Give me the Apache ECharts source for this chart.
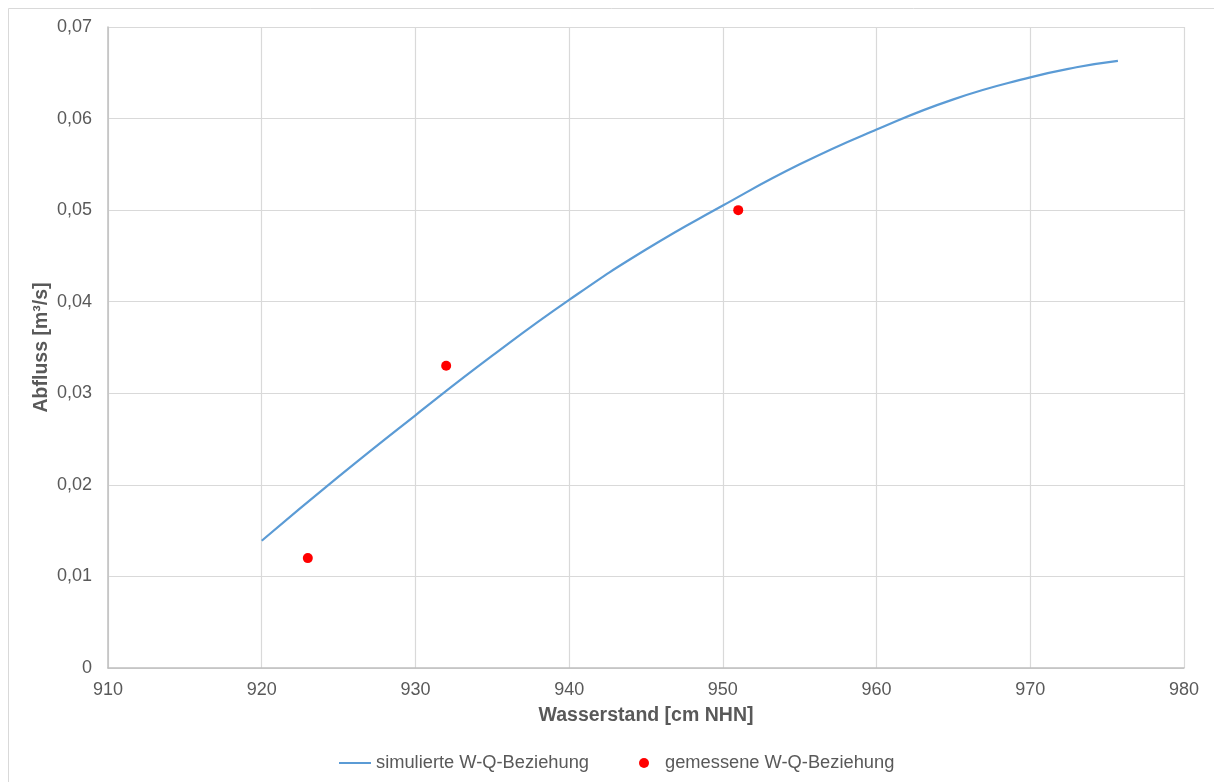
<!DOCTYPE html>
<html>
<head>
<meta charset="utf-8">
<script src="https://cdn.jsdelivr.net/npm/echarts@6/dist/echarts.min.js"></script>
<style>
html,body{margin:0;padding:0;background:#fff;}
#c{width:1214px;height:782px;}
</style>
</head>
<body>
<div id="c"></div>
<script>
// simulated W-Q relation (water level cm NHN, discharge m³/s)
const simX = [920, 925, 930, 935, 940, 945, 950, 955, 960, 965, 970, 973, 975.7];
const simY = [0.0139, 0.0209, 0.0276, 0.0341, 0.0402, 0.0457, 0.0505, 0.0550, 0.0588, 0.0621, 0.0645, 0.0656, 0.0663];
// measured W-Q relation
const measX = [923, 932, 951];
const measY = [0.012, 0.033, 0.050];
const seriesNames = ['simulierte W-Q-Beziehung', 'gemessene W-Q-Beziehung'];

const font = 'Liberation Sans, Arial, sans-serif';
const txt = '#595959';
const chart = echarts.init(document.getElementById('c'));
chart.setOption({
  animation: false,
  backgroundColor: '#ffffff',
  graphic: [{
    type: 'rect', silent: true,
    shape: { x: 8.5, y: 8.5, width: 1300, height: 900 },
    style: { fill: 'none', stroke: '#d9d9d9', lineWidth: 1 }
  }],
  grid: { left: 108, right: 30, top: 27, bottom: 114, containLabel: false },
  legend: {
    bottom: 5,
    left: 334,
    itemWidth: 32,
    itemHeight: 10,
    itemGap: 50,
    textStyle: { color: txt, fontFamily: font, fontSize: 18.3 },
    data: [
      { name: seriesNames[0], icon: 'path://M0,4 L32,4 L32,6 L0,6 Z' },
      { name: seriesNames[1], icon: 'circle' }
    ]
  },
  xAxis: {
    type: 'value', min: 910, max: 980, interval: 10,
    name: 'Wasserstand [cm NHN]', nameLocation: 'middle', nameGap: 38,
    nameMoveOverlap: false,
    nameTextStyle: { color: txt, fontFamily: font, fontSize: 19.5, fontWeight: 'bold' },
    axisLine: { show: true, onZero: false, lineStyle: { color: '#bfbfbf', width: 1.5 } },
    axisTick: { show: false },
    axisLabel: { color: txt, fontFamily: font, fontSize: 18, margin: 13 },
    splitLine: { show: true, lineStyle: { color: '#d9d9d9', width: 1.2 } }
  },
  yAxis: {
    type: 'value', min: 0, max: 0.07, interval: 0.01,
    name: 'Abfluss [m³/s]', nameLocation: 'middle', nameGap: 56,
    nameMoveOverlap: false,
    nameTextStyle: { color: txt, fontFamily: font, fontSize: 19.5, fontWeight: 'bold' },
    axisLine: { show: true, lineStyle: { color: '#bfbfbf', width: 1.5 } },
    axisTick: { show: false },
    axisLabel: {
      color: txt, fontFamily: font, fontSize: 18, margin: 16,
      formatter: v => v === 0 ? '0' : v.toFixed(2).replace('.', ',')
    },
    splitLine: { show: true, lineStyle: { color: '#d9d9d9', width: 1.2 } }
  },
  series: [
    {
      name: seriesNames[0], type: 'line', smooth: true, showSymbol: false, symbol: 'none',
      data: simX.map((x, i) => [x, simY[i]]),
      lineStyle: { color: '#5b9bd5', width: 2.2 },
      itemStyle: { color: '#5b9bd5' }
    },
    {
      name: seriesNames[1], type: 'scatter', symbolSize: 10,
      data: measX.map((x, i) => [x, measY[i]]),
      itemStyle: { color: '#ff0000', opacity: 1 }
    }
  ]
});
</script>
</body>
</html>
